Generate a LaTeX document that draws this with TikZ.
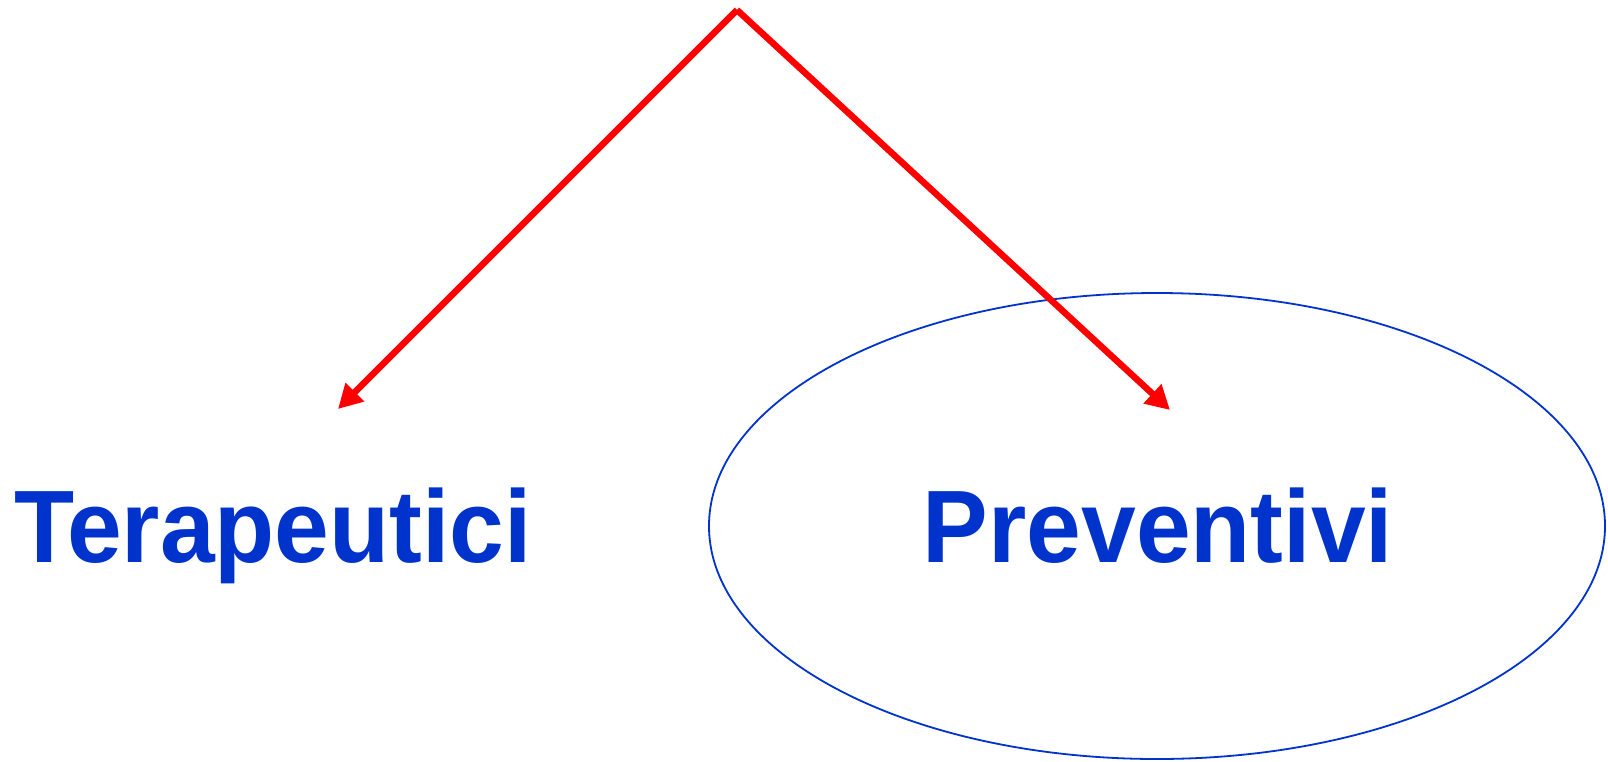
\documentclass[tikz,border=0pt]{standalone}
\usepackage{fontspec}
\setmainfont{Liberation Sans}
\usetikzlibrary{arrows.meta}
\definecolor{lblue}{HTML}{0033CC}
\definecolor{ared}{HTML}{FF0000}
\newcommand{\lbltext}[1]{\scalebox{0.955}[1]{\fontsize{103}{120}\selectfont\bfseries #1}}
\tikzset{
  redarrow/.style={draw=ared, line width=6.5pt, -{Triangle[length=24pt,width=25pt]}},
  label/.style={text=lblue, inner sep=0pt, anchor=base},
  oval/.style={draw=lblue, line width=1.8pt}
}
\begin{document}
\begin{tikzpicture}[x=1pt,y=-1pt]
\useasboundingbox (0,0) rectangle (1608,761);
\draw[oval] (1157,526) ellipse [x radius=448, y radius=233];
\coordinate (apex) at (737,10);
\coordinate (ltip) at (338,409);
\coordinate (rtip) at (1170,410);
\node[label] (ter) at (273,562) {\lbltext{Terapeutici}};
\node[label] (pre) at (1158,562) {\lbltext{Preventivi}};
\draw[redarrow] (apex) -- (ltip);
\draw[redarrow] (apex) -- (rtip);
\end{tikzpicture}
\end{document}
